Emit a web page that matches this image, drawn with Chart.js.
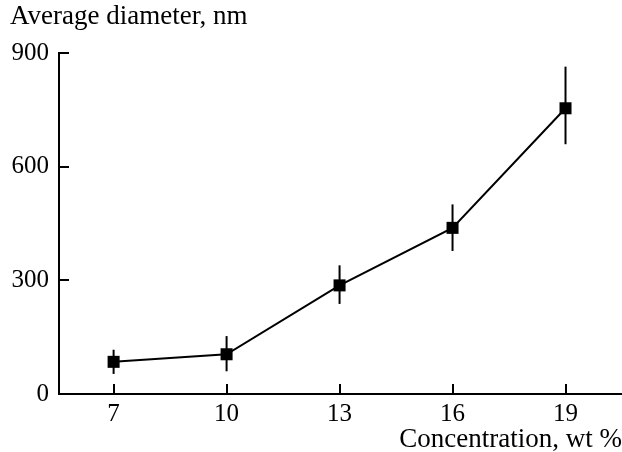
<!DOCTYPE html>
<html>
<head>
<meta charset="utf-8">
<script src="https://cdn.jsdelivr.net/npm/chart.js@4.4.1/dist/chart.umd.min.js"></script>
<style>
  html, body { margin: 0; padding: 0; background: #fff; overflow: hidden; }
  #wrap { width: 622px; height: 452px; position: relative; }
</style>
</head>
<body>
<div id="wrap"><canvas id="chart"></canvas></div>
<script>
// Daten
const concentrations = [7, 10, 13, 16, 19];
const diameters = [85, 105, 287, 439, 755];
const errLow = [53, 60, 238, 378, 660];
const errHigh = [117, 153, 340, 501, 865];
const xTicks = [7, 10, 13, 16, 19];
const yTicks = [0, 300, 600, 900];

const serif = '"Liberation Serif", "Times New Roman", serif';
const tickSize = 25;
const titleSize = 27;

// Fehlerbalken über die Skalen zeichnen
const errorBars = {
    id: 'errorBars',
    beforeDatasetsDraw(chart) {
        const { ctx, scales: { x, y } } = chart;
        ctx.save();
        ctx.strokeStyle = '#000';
        ctx.lineWidth = 2;
        concentrations.forEach((c, i) => {
            const px = x.getPixelForValue(c);
            ctx.beginPath();
            ctx.moveTo(px, y.getPixelForValue(errLow[i]));
            ctx.lineTo(px, y.getPixelForValue(errHigh[i]));
            ctx.stroke();
        });
        ctx.restore();
    }
};

const ctx = document.getElementById('chart').getContext('2d');
new Chart(ctx, {
    type: 'line',
    data: {
        datasets: [{
            data: concentrations.map((c, i) => ({ x: c, y: diameters[i] })),
            borderColor: '#000',
            backgroundColor: '#000',
            borderWidth: 2,
            pointStyle: 'rect',
            pointRadius: 8.5,
            pointBorderWidth: 0,
            tension: 0,
            clip: false
        }]
    },
    options: {
        responsive: true,
        maintainAspectRatio: false,
        animation: false,
        devicePixelRatio: 1,
        layout: { autoPadding: false, padding: { left: 10, right: 0, top: 0, bottom: 0 } },
        plugins: {
            legend: { display: false },
            tooltip: { enabled: false },
            title: {
                display: true,
                text: 'Average diameter, nm',
                align: 'start',
                color: '#000',
                font: { family: serif, size: titleSize, weight: 'normal' },
                padding: { top: 1, bottom: 20 }
            }
        },
        scales: {
            x: {
                type: 'linear',
                min: 5.55,
                max: 20.5,
                afterBuildTicks: (scale) => { scale.ticks = xTicks.map(v => ({ value: v })); },
                afterFit: (scale) => { scale.height = 58; },
                border: { display: true, color: '#000', width: 2 },
                grid: { drawOnChartArea: false, drawTicks: true, tickLength: -10, lineWidth: 2, color: '#000' },
                ticks: { color: '#000', padding: 15, font: { family: serif, size: tickSize } },
                title: {
                    display: true,
                    text: 'Concentration, wt %',
                    align: 'end',
                    color: '#000',
                    font: { family: serif, size: titleSize },
                    padding: { top: 0, bottom: -4 }
                }
            },
            y: {
                type: 'linear',
                min: 0,
                max: 900,
                afterBuildTicks: (scale) => { scale.ticks = yTicks.map(v => ({ value: v })); },
                afterFit: (scale) => { scale.width = 49; },
                border: { display: true, color: '#000', width: 2 },
                grid: { drawOnChartArea: false, drawTicks: true, tickLength: -10, lineWidth: 2, color: '#000' },
                ticks: { color: '#000', padding: 20, font: { family: serif, size: tickSize } }
            }
        }
    },
    plugins: [errorBars]
});
</script>
</body>
</html>
